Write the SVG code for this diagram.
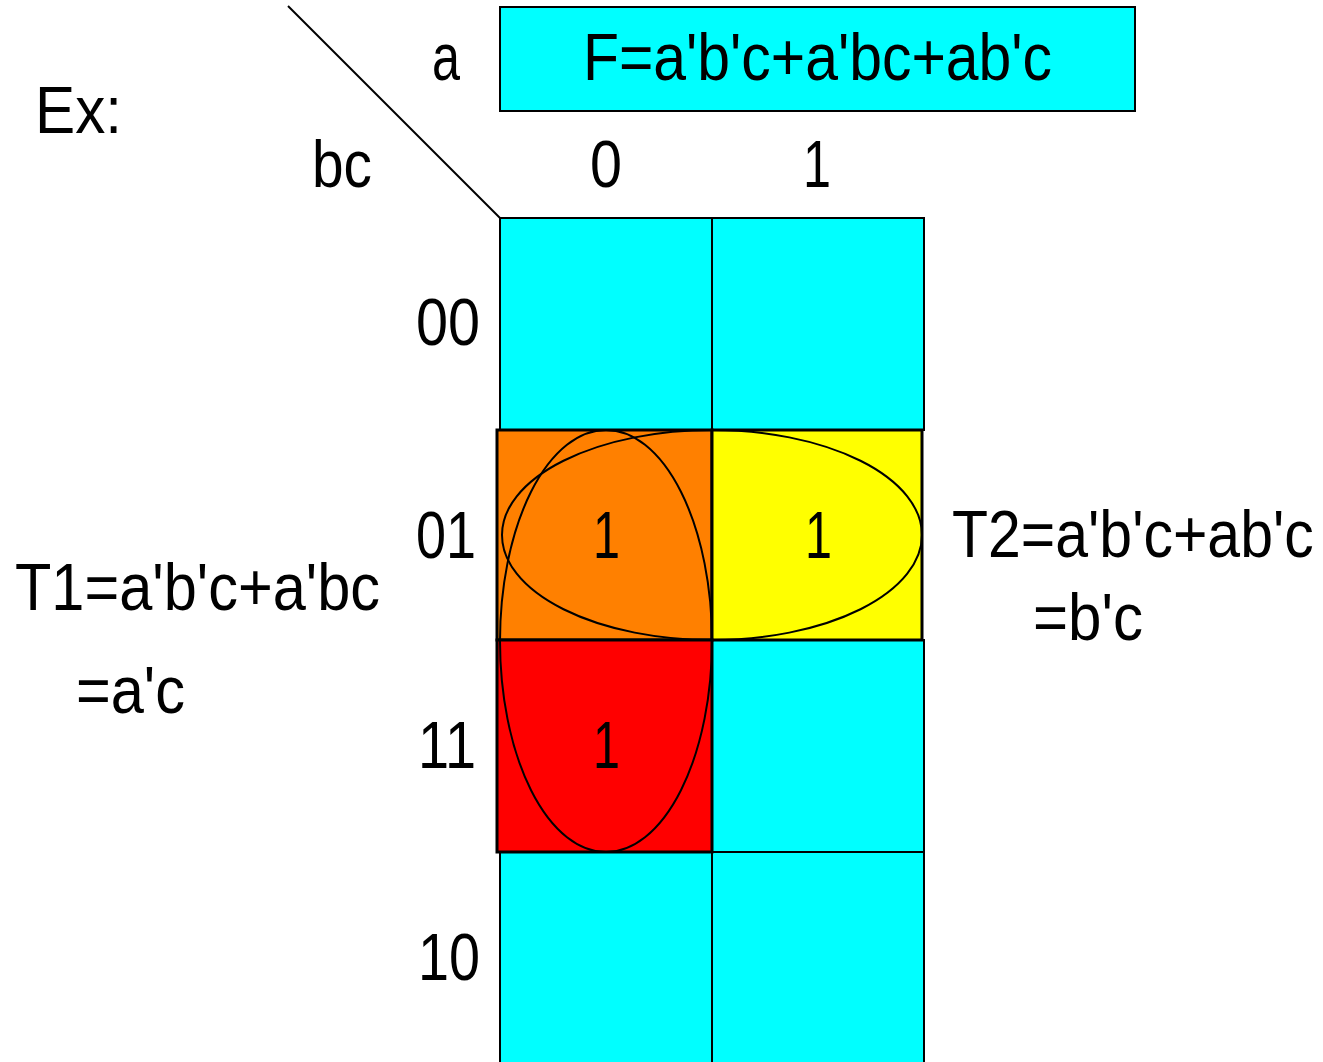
<svg xmlns="http://www.w3.org/2000/svg" width="1323" height="1062" viewBox="0 0 1323 1062">
<style>
text{font-family:"Liberation Sans",Arial,sans-serif;font-size:66px;fill:#000}
.cell{fill:#00ffff;stroke:#000;stroke-width:2}
.grp{stroke:#000;stroke-width:3}
.ring{fill:none;stroke:#000;stroke-width:2}
</style>
<rect width="1323" height="1062" fill="#fff"/>
<g id="labels">
<text x="35" y="133" textLength="87" lengthAdjust="spacingAndGlyphs">Ex:</text>
<text x="432" y="80" textLength="28" lengthAdjust="spacingAndGlyphs">a</text>
<text x="312" y="187" textLength="60" lengthAdjust="spacingAndGlyphs">bc</text>
<text x="590" y="187" textLength="32" lengthAdjust="spacingAndGlyphs">0</text>
<text x="803" y="187" textLength="28" lengthAdjust="spacingAndGlyphs">1</text>
<text x="416" y="345" textLength="64" lengthAdjust="spacingAndGlyphs">00</text>
<text x="416" y="558" textLength="60" lengthAdjust="spacingAndGlyphs">01</text>
<text x="418" y="768" textLength="58" lengthAdjust="spacingAndGlyphs">11</text>
<text x="418" y="980" textLength="62" lengthAdjust="spacingAndGlyphs">10</text>
</g>
<line x1="288" y1="6" x2="500" y2="218" stroke="#000" stroke-width="2"/>
<g id="title">
<rect x="500" y="7" width="635" height="104" fill="#00ffff" stroke="#000" stroke-width="2"/>
<text x="583" y="80" textLength="469" lengthAdjust="spacingAndGlyphs">F=a'b'c+a'bc+ab'c</text>
</g>
<g id="grid">
<rect class="cell" x="500" y="218" width="212" height="212"/>
<rect class="cell" x="712" y="218" width="212" height="212"/>
<rect class="cell" x="712" y="640" width="212" height="212"/>
<rect class="cell" x="500" y="852" width="212" height="212"/>
<rect class="cell" x="712" y="852" width="212" height="212"/>
</g>
<g id="cell-01-0"><rect class="grp" x="497" y="430" width="215" height="210" fill="#ff8000"/></g>
<g id="cell-01-1"><rect class="grp" x="712" y="430" width="210" height="210" fill="#ffff00"/></g>
<g id="cell-11-0"><rect class="grp" x="497" y="640" width="215" height="212" fill="#ff0000"/></g>
<g id="rings">
<ellipse class="ring" cx="606" cy="641" rx="106" ry="211"/>
<ellipse class="ring" cx="712" cy="535" rx="210" ry="105"/>
</g>
<g id="ones">
<text x="593" y="558" textLength="27" lengthAdjust="spacingAndGlyphs">1</text>
<text x="805" y="558" textLength="27" lengthAdjust="spacingAndGlyphs">1</text>
<text x="593" y="768" textLength="27" lengthAdjust="spacingAndGlyphs">1</text>
</g>
<g id="t1">
<text x="15" y="610" textLength="365" lengthAdjust="spacingAndGlyphs">T1=a'b'c+a'bc</text>
<text x="76" y="713" textLength="109" lengthAdjust="spacingAndGlyphs">=a'c</text>
</g>
<g id="t2">
<text transform="translate(952,557) scale(0.894,1)" x="0" y="0">T2=a'b'c+ab'c</text>
<text x="1033" y="640" textLength="110" lengthAdjust="spacingAndGlyphs">=b'c</text>
</g>
</svg>
